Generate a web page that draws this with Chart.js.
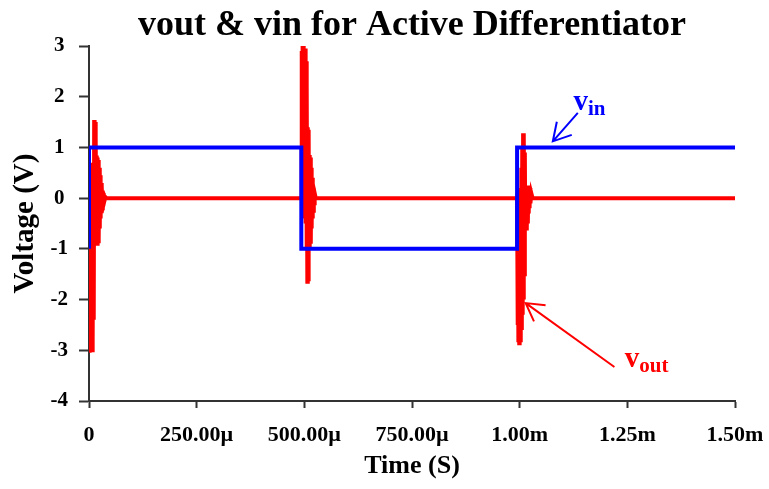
<!DOCTYPE html>
<html>
<head>
<meta charset="utf-8">
<script src="https://cdn.jsdelivr.net/npm/chart.js@4.4.1/dist/chart.umd.min.js"></script>
<style>
  html, body { margin: 0; padding: 0; background: #ffffff; }
  #wrap { width: 769px; height: 489px; position: relative; }
</style>
</head>
<body>
<div id="wrap"><canvas id="c" width="769" height="489"></canvas></div>
<script>
// Time axis in microseconds
const xTickValues = [0, 250, 500, 750, 1000, 1250, 1500];
const xTickLabels = ['0', '250.00\u00b5', '500.00\u00b5', '750.00\u00b5', '1.00m', '1.25m', '1.50m'];

// Input square wave (V)
const vinTime = [0, 0, 493, 493, 994, 994, 1500];
const vinVolt = [-1, 1, 1, -1, -1, 1, 1];

// Differentiator output (V): ringing bursts at each input edge
const voutTime = [
  0, 1, 2, 3, 4, 5, 6, 7, 8, 9, 10, 11, 12, 13, 14, 15, 16, 17, 18, 19,
  20, 21, 22, 23, 24, 25, 26, 27, 28, 29, 30, 31, 32, 33, 34, 36, 38, 40,
  493, 494, 495, 496, 497, 498, 499, 500, 501, 502, 503, 504, 505, 506, 507, 508,
  509, 510, 511, 512, 513, 514, 515, 516, 517, 518, 519, 520, 521, 522, 523, 524, 526, 528,
  994, 995, 996, 997, 998, 999, 1000, 1001, 1002, 1003, 1004, 1005, 1006, 1007, 1008, 1009,
  1010, 1011, 1012, 1013, 1014, 1015, 1016, 1017, 1018, 1019, 1020, 1021, 1022, 1023, 1024, 1025,
  1027, 1030, 1500
];
const voutVolt = [
  0, -3.05, 0.2, -3.0, 0.6, -2.95, 0.7, -3.0, 0.5, -2.8, 0.4, -2.4, 1.54, -0.85, 1.5, -0.8, 1.2, -0.8, 0.84, -0.9,
  0.8, -0.85, 0.75, -0.8, 0.6, -0.6, 0.45, -0.4, 0.3, -0.3, 0.25, -0.2, 0.15, -0.1, 0.1, -0.05, 0.02, 0,
  0, 2.9, -0.3, 3.0, 0.2, 3.0, -0.4, 2.95, 0.0, 2.95, -0.5, 2.7, -1.0, 2.2, -1.65, 1.4,
  -1.6, 1.35, -0.95, 0.85, -0.95, 0.8, -0.9, 0.6, -0.6, 0.4, -0.4, 0.3, -0.25, 0.2, -0.1, 0.1, 0.02, 0,
  0, -2.5, 0.1, -2.8, 0.15, -2.86, 0.1, -2.8, 0.2, -2.7, 0.6, -2.6, 1.0, -2.3, 1.28, -2.0,
  1.25, -1.5, 0.9, -0.6, 0.25, -0.6, 0.2, -0.6, 0.2, -0.5, 0.25, -0.3, 0.2, -0.2, 0.2, -0.1,
  0.1, 0, 0
];

// Callout labels: [main, subscript, colour, text x, text baseline y, arrow tail x, tail y, head x, head y]
const callouts = [
  ['v', 'in',  '#0000ff', 1125, 1.74, 1135, 1.68, 1077, 1.12],
  ['v', 'out', '#ff0000', 1244, -3.33, 1220, -3.33, 1014, -2.07]
];

const serif = '"Liberation Serif", "Times New Roman", serif';

const toPoints = (xs, ys) => xs.map((x, i) => ({ x: x, y: ys[i] }));

const calloutPlugin = {
  id: 'callouts',
  afterDatasetsDraw(chart) {
    const { ctx, scales: { x, y } } = chart;
    ctx.save();
    callouts.forEach(c => {
      const [main, sub, color, tx, ty, ax0, ay0, ax1, ay1] = c;
      const px = x.getPixelForValue(tx), py = y.getPixelForValue(ty);
      ctx.fillStyle = color;
      ctx.textBaseline = 'alphabetic';
      ctx.textAlign = 'left';
      ctx.font = 'bold 29px ' + serif;
      ctx.fillText(main, px, py);
      const w = ctx.measureText(main).width;
      ctx.font = 'bold 21px ' + serif;
      ctx.fillText(sub, px + w, py + 5);

      const x0 = x.getPixelForValue(ax0), y0 = y.getPixelForValue(ay0);
      const x1 = x.getPixelForValue(ax1), y1 = y.getPixelForValue(ay1);
      ctx.strokeStyle = color;
      ctx.lineWidth = 2;
      ctx.beginPath();
      ctx.moveTo(x0, y0);
      ctx.lineTo(x1, y1);
      const ang = Math.atan2(y0 - y1, x0 - x1);
      const len = 20, spread = 0.52;
      ctx.moveTo(x1 + len * Math.cos(ang - spread), y1 + len * Math.sin(ang - spread));
      ctx.lineTo(x1, y1);
      ctx.lineTo(x1 + len * Math.cos(ang + spread), y1 + len * Math.sin(ang + spread));
      ctx.stroke();
    });
    ctx.restore();
  }
};

new Chart(document.getElementById('c'), {
  type: 'line',
  data: {
    datasets: [
      {
        label: 'vin',
        data: toPoints(vinTime, vinVolt),
        borderColor: '#0000ff',
        borderWidth: 4,
        pointRadius: 0,
        tension: 0,
        fill: false
      },
      {
        label: 'vout',
        data: toPoints(voutTime, voutVolt),
        borderColor: '#ff0000',
        borderWidth: 4,
        pointRadius: 0,
        tension: 0,
        fill: false
      }
    ]
  },
  options: {
    responsive: false,
    animation: false,
    devicePixelRatio: 1,
    layout: { padding: 0 },
    plugins: {
      legend: { display: false },
      tooltip: { enabled: false },
      title: {
        display: true,
        fullSize: false,
        text: 'vout & vin for Active Differentiator',
        color: '#000000',
        font: { family: serif, size: 36, weight: 'bold', lineHeight: 1.15 },
        padding: { top: 4.6, bottom: 0 }
      }
    },
    scales: {
      x: {
        type: 'linear',
        min: 0,
        max: 1500,
        afterBuildTicks(scale) { scale.ticks = xTickValues.map(v => ({ value: v })); },
        afterFit(scale) {
          scale.height = 88;
          scale.paddingLeft = 0;
          scale.paddingRight = 34;
        },
        ticks: {
          color: '#000000',
          font: { family: serif, size: 22, weight: 'bold' },
          padding: 14,
          maxRotation: 0,
          autoSkip: false,
          callback: (v) => xTickLabels[xTickValues.indexOf(v)]
        },
        grid: { drawOnChartArea: false, drawTicks: true, tickLength: 7, tickColor: '#333333', tickWidth: 2 },
        border: { display: true, color: '#333333', width: 2 },
        title: {
          display: true,
          text: 'Time (S)',
          color: '#000000',
          font: { family: serif, size: 26, weight: 'bold' },
          padding: { top: 0, bottom: 7 }
        }
      },
      y: {
        min: -4,
        max: 3,
        afterFit(scale) { scale.width = 89; },
        ticks: {
          stepSize: 1,
          color: '#000000',
          font: { family: serif, size: 21, weight: 'bold' },
          padding: 11,
          crossAlign: 'center'
        },
        grid: { drawOnChartArea: false, drawTicks: true, tickLength: 10, tickColor: '#333333', tickWidth: 2 },
        border: { display: true, color: '#333333', width: 2 },
        title: {
          display: true,
          text: 'Voltage (V)',
          color: '#000000',
          font: { family: serif, size: 29, weight: 'bold' },
          padding: { top: 8, bottom: 0 }
        }
      }
    }
  },
  plugins: [calloutPlugin]
});
</script>
</body>
</html>
